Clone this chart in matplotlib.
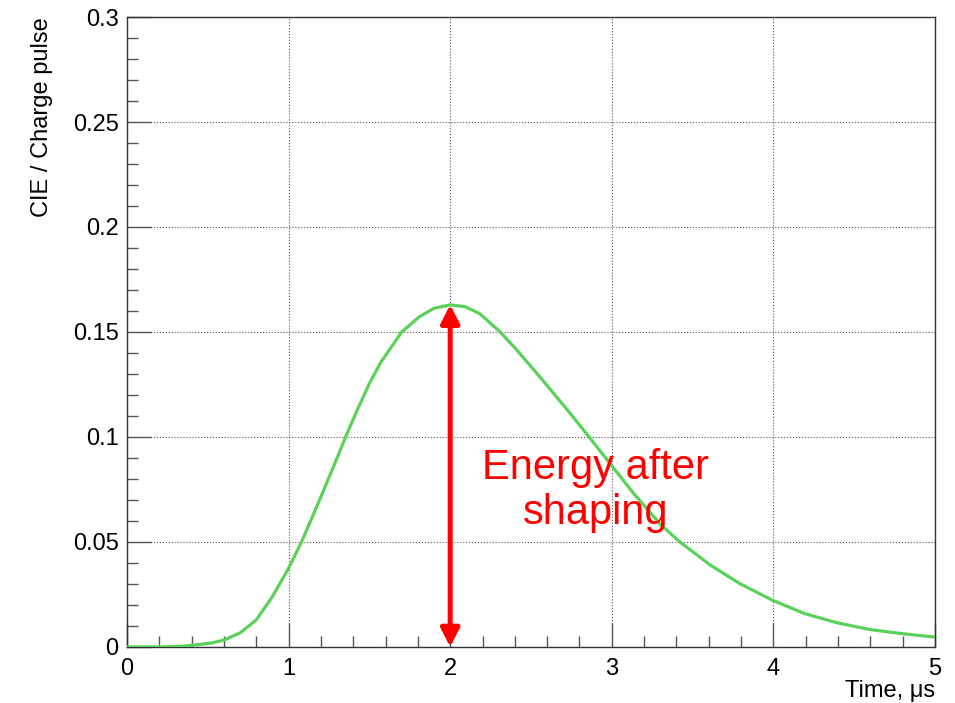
import matplotlib
matplotlib.use("Agg")
import matplotlib.pyplot as plt
from matplotlib.ticker import MultipleLocator

plt.rcParams['font.family'] = ['Liberation Sans', 'DejaVu Sans']

# pulse after shaping
time_us = [0.0, 0.2, 0.35, 0.45, 0.53, 0.6, 0.7, 0.8, 0.9, 1.0, 1.08, 1.2,
           1.3, 1.353, 1.42, 1.5, 1.57, 1.7, 1.81, 1.9, 2.0, 2.09, 2.18, 2.31,
           2.41, 2.5, 2.6, 2.74, 2.865, 2.99, 3.13, 3.3, 3.42, 3.61, 3.79,
           3.99, 4.19, 4.39, 4.59, 4.78, 5.0]
pulse = [0.0, 0.0, 0.0004, 0.0012, 0.002, 0.0033, 0.0067, 0.0129, 0.024,
         0.0375, 0.05, 0.0715, 0.09, 0.1, 0.112, 0.1255, 0.1355, 0.15,
         0.1573, 0.1613, 0.1629, 0.1621, 0.1589, 0.15, 0.1416, 0.1336,
         0.1245, 0.1115, 0.0995, 0.0873, 0.0736, 0.0585, 0.0501, 0.039,
         0.0303, 0.0224, 0.016, 0.0116, 0.0084, 0.0065, 0.0047]

peak_t = 2.0
peak_val = 0.163
label_text = "Energy after\nshaping"

fig = plt.figure(figsize=(9.55, 7.03), dpi=100)
ax = fig.add_axes([0.133, 0.0797, 0.846, 0.8961])

ax.plot(time_us, pulse, color='#5ad25a', lw=2.3, zorder=3,
        solid_joinstyle='round')

ax.annotate('', xy=(peak_t, peak_val), xytext=(peak_t, 0),
            arrowprops=dict(arrowstyle='<|-|>,head_length=0.55,head_width=0.28',
                            color='red', lw=3.6, mutation_scale=20,
                            shrinkA=0, shrinkB=0), zorder=4)
ax.text(2.9, 0.0745, label_text, color='red', fontsize=30,
        ha='center', va='center', linespacing=1.15, zorder=5)

ax.set_xlim(0, 5)
ax.set_ylim(0, 0.3)
ax.xaxis.set_major_locator(MultipleLocator(1))
ax.xaxis.set_minor_locator(MultipleLocator(0.2))
ax.yaxis.set_minor_locator(MultipleLocator(0.01))
ax.set_yticks([0, 0.05, 0.1, 0.15, 0.2, 0.25, 0.3])
ax.set_yticklabels(['0', '0.05', '0.1', '0.15', '0.2', '0.25', '0.3'])

ax.tick_params(which='major', direction='in', length=17, width=1,
               color='#555555', labelsize=17, pad=6)
ax.tick_params(which='minor', direction='in', length=8, width=1,
               color='#555555')
ax.tick_params(axis='x', pad=8)

ax.grid(True, which='major', linestyle=':', color='#555555', lw=0.8)
for s in ax.spines.values():
    s.set_color('#333333')
    s.set_linewidth(1)

ax.set_xlabel('Time, μs', fontsize=17, loc='right', labelpad=0)
ax.set_ylabel('CIE / Charge pulse', fontsize=17, loc='top', labelpad=14)

fig.savefig('out.png', dpi=100)
